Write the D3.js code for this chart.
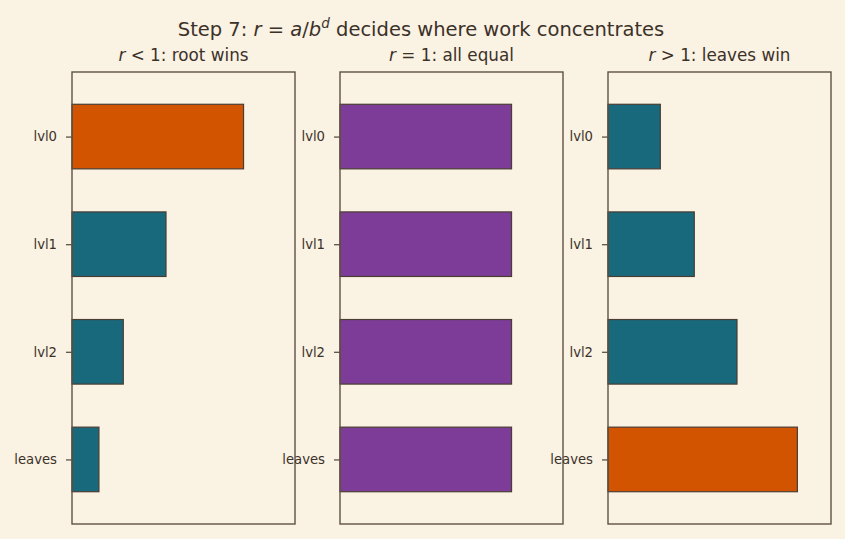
<!DOCTYPE html>
<html>
<head>
<meta charset="utf-8">
<script src="https://cdn.jsdelivr.net/npm/d3@7"></script>
<style>
  body { margin: 0; background: #faf2e3; }
  text { font-family: "DejaVu Sans", sans-serif; fill: #3b3129; }
</style>
</head>
<body>
<div id="main"></div>
<script>
/* Define Size */
const width = 845, height = 539;

/* Define Data */
const levels = ["lvl0", "lvl1", "lvl2", "leaves"];
const rootWins = [1.0, 0.548, 0.299, 0.157];
const allEqual = [1.0, 1.0, 1.0, 1.0];
const leavesWin = [0.305, 0.503, 0.752, 1.104];
const panelTitles = [
  ["r", " < 1: root wins"],
  ["r", " = 1: all equal"],
  ["r", " > 1: leaves win"]
];

const orange = "#d35400", teal = "#17697b", purple = "#7d3c98";
const edge = "#4a3d33", frame = "#5e5244";

const panels = [
  { values: rootWins, colors: [orange, teal, teal, teal] },
  { values: allEqual, colors: [purple, purple, purple, purple] },
  { values: leavesWin, colors: [teal, teal, teal, orange] }
];

const svg = d3.select("#main").append("svg")
  .attr("width", width).attr("height", height);

svg.append("rect").attr("width", width).attr("height", height).attr("fill", "#faf2e3");

/* title with math bits */
const title = svg.append("text")
  .attr("x", 421).attr("y", 36)
  .attr("text-anchor", "middle")
  .style("font-size", "19.5px");
title.append("tspan").text("Step 7: ");
title.append("tspan").style("font-style", "italic").text("r");
title.append("tspan").text(" = ");
title.append("tspan").style("font-style", "italic").text("a");
title.append("tspan").text("/");
title.append("tspan").style("font-style", "italic").text("b");
title.append("tspan").style("font-style", "italic").style("font-size", "13.5px").attr("dy", -8).text("d");
title.append("tspan").attr("dy", 8).text(" decides where work concentrates");

const panelLeft = [72, 340, 608];
const panelW = 223, plotTop = 72, plotBottom = 524;

const y = d3.scaleLinear().domain([-0.6, 3.6]).range([plotTop, plotBottom]);
const barH = y(0.3) - y(-0.3);

panels.forEach((p, i) => {
  const x = d3.scaleLinear().domain([0, 1.3]).range([panelLeft[i], panelLeft[i] + panelW]);
  const g = svg.append("g");

  g.selectAll("rect.bar")
    .data(p.values)
    .enter()
    .append("rect")
    .attr("class", "bar")
    .attr("x", x(0))
    .attr("y", (d, j) => y(j) - barH / 2)
    .attr("width", d => x(d) - x(0))
    .attr("height", barH)
    .attr("fill", (d, j) => p.colors[j])
    .attr("stroke", edge)
    .attr("stroke-width", 1.2);

  // y axis ticks and labels
  const yAxis = d3.axisLeft(y).tickValues([0, 1, 2, 3])
    .tickFormat(j => levels[j]).tickSize(6).tickPadding(9);
  const ax = g.append("g").attr("transform", `translate(${x(0)},0)`).call(yAxis);
  ax.select(".domain").remove();
  ax.selectAll("line").attr("stroke", frame).attr("stroke-width", 1.3);
  ax.selectAll("text").style("font-size", "13.2px").attr("fill", "#3b3129");

  // frame
  g.append("rect")
    .attr("x", x(0)).attr("y", plotTop)
    .attr("width", panelW).attr("height", plotBottom - plotTop)
    .attr("fill", "none").attr("stroke", frame).attr("stroke-width", 1.4);

  const t = g.append("text")
    .attr("x", panelLeft[i] + panelW / 2).attr("y", 61)
    .attr("text-anchor", "middle")
    .style("font-size", "16.8px");
  t.append("tspan").style("font-style", "italic").text(panelTitles[i][0]);
  t.append("tspan").text(panelTitles[i][1]);
});
</script>
</body>
</html>
